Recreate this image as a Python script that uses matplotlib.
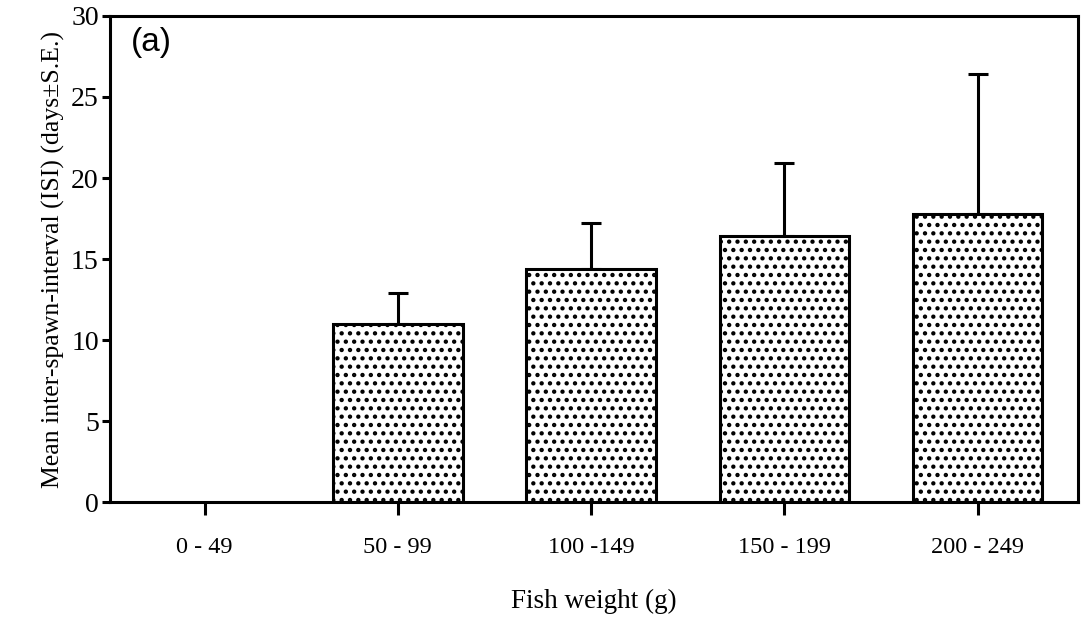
import matplotlib
matplotlib.use('Agg')
import matplotlib.pyplot as plt
import numpy as np

# data
weight_classes = ['0 - 49', '50 - 99', '100 -149', '150 - 199', '200 - 249']
mean_isi = [np.nan, 11.0, 14.4, 16.4, 17.8]
se_isi = [np.nan, 1.9, 2.8, 4.5, 8.6]

plt.rcParams['font.family'] = ['Liberation Serif', 'DejaVu Serif']
plt.rcParams['hatch.linewidth'] = 1.9

fig = plt.figure(figsize=(10.88, 6.36), dpi=100)
ax = fig.add_axes([0.101, 0.21, 0.890, 0.765])

x = np.arange(len(weight_classes))
lower = [0] * len(se_isi)

# error bars first so the bar outline sits on top
ax.errorbar(x, mean_isi, yerr=[lower, se_isi], fmt='none', ecolor='black',
            elinewidth=2.2, capsize=7, capthick=2.2, zorder=1)
ax.bar(x, mean_isi, width=0.67, color='white', edgecolor='black',
       linewidth=2.2, hatch='..', zorder=2)

ax.set_xlim(-0.49, 4.52)
ax.set_ylim(0, 30)
ax.set_yticks(np.arange(0, 31, 5))
ax.set_xticks(x)
ax.set_xticklabels(weight_classes, fontsize=17.5)
ax.tick_params(axis='y', labelsize=20, length=6, width=2.2, pad=2)
ax.tick_params(axis='x', length=9, width=2.2, pad=16)

for side in ['left', 'bottom', 'top', 'right']:
    ax.spines[side].set_linewidth(2.2)

ax.set_ylabel('Mean inter-spawn-interval (ISI) (days±S.E.)', fontsize=18.5, labelpad=4)
ax.set_xlabel('Fish weight (g)', fontsize=19.5, labelpad=22)

ax.text(0.022, 0.945, '(a)', transform=ax.transAxes, fontsize=24,
        family=['Liberation Sans', 'DejaVu Sans'], va='center', ha='left')

plt.savefig('out.png', dpi=100)
